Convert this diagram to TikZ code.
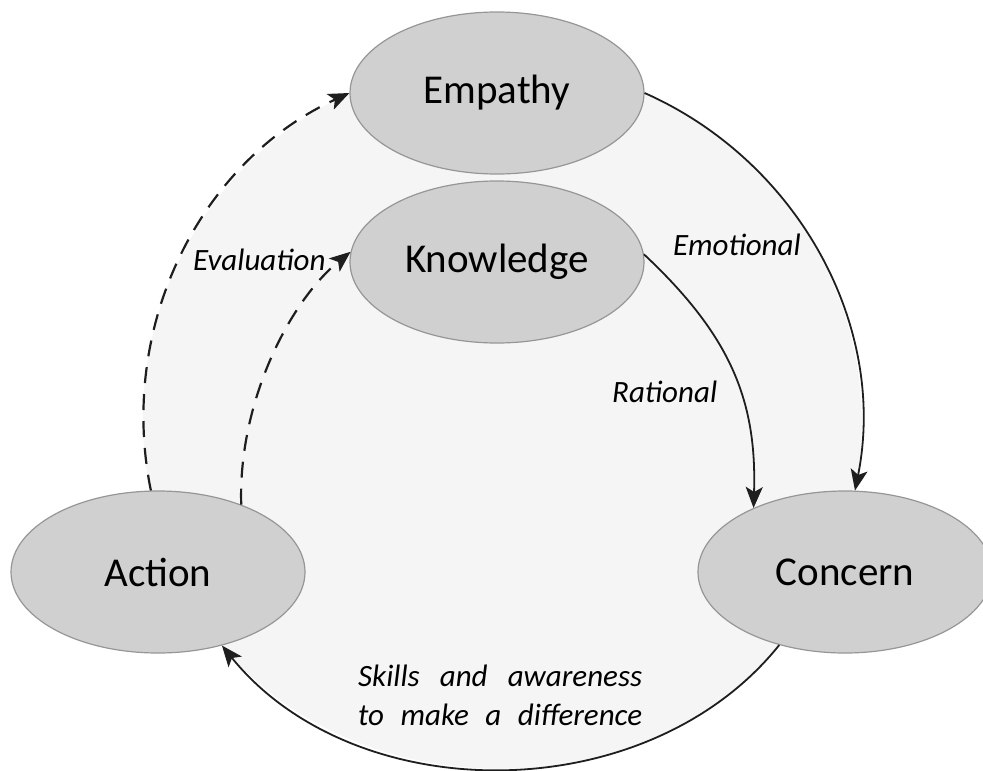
\documentclass[tikz,border=0pt]{standalone}
\usepackage{fontspec}
\setmainfont{Carlito}
\usetikzlibrary{shapes.geometric,arrows.meta}
\definecolor{bgfill}{RGB}{245,245,245}
\definecolor{ellfill}{RGB}{208,208,208}
\definecolor{ellline}{RGB}{150,150,150}
\definecolor{linec}{RGB}{30,30,30}
\tikzset{
  bubble/.style={ellipse, draw=ellline, line width=1.2pt, fill=ellfill,
    minimum width=294pt, minimum height=162pt, inner sep=0pt,
    font=\fontsize{41}{48}\selectfont},
  flow/.style={draw=linec, line width=1.8pt,
    -{Stealth[length=21pt,width=17pt,inset=5pt]}},
  backflow/.style={flow, line width=2.2pt, dash pattern=on 16pt off 11pt},
  lab/.style={font=\fontsize{31}{38}\selectfont\itshape, inner sep=0pt, anchor=base west}
}
\begin{document}
\begin{tikzpicture}[x=1pt,y=-1pt]
\useasboundingbox (0,0) rectangle (983,771);
\clip (0,0) rectangle (983,771);
% light background disc
\fill[bgfill] (150,490) .. controls (117.5,327) and (199,162) .. (350,93)
  -- (497,93) -- (644,93) .. controls (798,161) and (888,326) .. (855,491)
  -- (845,572) -- (780,645) .. controls (647,810) and (355,810) .. (222,645)
  -- (158,572) -- cycle;
% nodes
\node[bubble] (emp) at (497,93) {Empathy};
\node[bubble] (kno) at (497,262) {Knowledge};
\node[bubble] (act) at (158,572) {Action};
\node[bubble] (con) at (845,572) {Concern};
% connectors
\draw[flow] (emp.east) .. controls (798,161) and (888,326) .. (con.83);
\draw[flow] (kno.3) .. controls (730,335) and (757,400) .. (con.145);
\draw[flow] (con.228) .. controls (647,810) and (355,810) .. (act.-49);
\draw[backflow] (act.95) .. controls (117.5,327) and (199,162) .. (emp.west);
\draw[backflow] (act.39) .. controls (238,403) and (289,302) .. (kno.176);
% labels
\node[lab] (lemo) at (673,255) {Emotional};
\node[lab] (lrat) at (612,402) {Rational};
\node[lab] (leva) at (193,270) {Evaluation};
\node[lab] (lsk1) at (358,686) {\makebox[284pt][s]{Skills and awareness}};
\node[lab] (lsk2) at (358,725) {\makebox[284pt][s]{to make a difference}};
\end{tikzpicture}
\end{document}
